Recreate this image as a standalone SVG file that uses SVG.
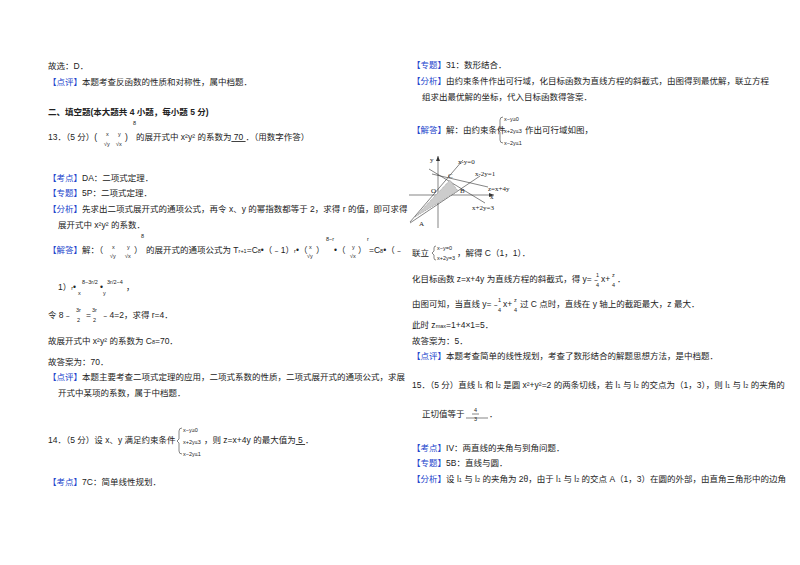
<svg xmlns="http://www.w3.org/2000/svg" width="800" height="565" viewBox="0 0 800 565">
<style>
text{font-family:"Liberation Sans","Noto Sans CJK SC",sans-serif;font-size:8.5px;fill:#222}
.b{fill:#2244cc}
.s{font-size:5.5px}
.bold{font-weight:bold}
.g{font-family:"Liberation Serif","Noto Sans CJK SC",serif;font-size:7px}
line,path,polyline{stroke:#333;stroke-width:0.6;fill:none}
</style>
<rect width="800" height="565" fill="#fff"/>
<g id="left">
<text x="48" y="69">故选：D．</text>
<text x="48" y="85"><tspan class="b">【点评】</tspan>本题考查反函数的性质和对称性，属中档题．</text>
<text x="48" y="115" class="bold">二、填空题(本大题共 4 小题，每小题 5 分)</text>
<text x="48" y="140">13．（5 分）(</text>
<text x="106" y="136" class="s">x</text><text x="104" y="146" class="s">√y</text>
<text x="118" y="136" class="s">y</text><text x="116" y="146" class="s">√x</text>
<text x="125" y="140">)</text><text x="133" y="125" class="s">8</text>
<text x="136" y="140">的展开式中 x²y² 的系数为<tspan text-decoration="underline">  70  </tspan>．（用数字作答）</text>
<text x="48" y="181"><tspan class="b">【考点】</tspan>DA：二项式定理．</text>
<text x="48" y="196"><tspan class="b">【专题】</tspan>5P：二项式定理．</text>
<text x="48" y="212"><tspan class="b">【分析】</tspan>先求出二项式展开式的通项公式，再令 x、y 的幂指数都等于 2，求得 r 的值，即可求得</text>
<text x="58" y="228">展开式中 x²y² 的系数．</text>
<text x="48" y="253"><tspan class="b">【解答】</tspan>解：（</text>
<text x="112" y="249" class="s">x</text><text x="110" y="258" class="s">√y</text>
<text x="127" y="249" class="s">y</text><text x="125" y="258" class="s">√x</text>
<text x="134" y="253">）</text><text x="141" y="238" class="s">8</text>
<text x="146" y="253">的展开式的通项公式为 T<tspan class="s">r+1</tspan>=C<tspan class="s">8</tspan>•（﹣1）<tspan class="s">r</tspan>•（</text>
<text x="309" y="249" class="s">x</text><text x="307" y="258" class="s">√y</text>
<text x="316" y="253">）</text><text x="326" y="241" class="s">8−r</text>
<text x="334" y="253">•（</text>
<text x="352" y="249" class="s">y</text><text x="350" y="258" class="s">√x</text>
<text x="358" y="253">）</text><text x="367" y="241" class="s">r</text>
<text x="369" y="253">=C<tspan class="s">8</tspan>•（﹣</text>
<text x="58" y="290">1）<tspan class="s">r</tspan>•</text>
<text x="78" y="295" class="s">x</text><text x="82" y="284" class="s">8−3r/2</text>
<text x="100" y="290">•</text>
<text x="103" y="295" class="s">y</text><text x="107" y="284" class="s">3r/2−4</text>
<text x="126" y="290">，</text>
<text x="48" y="318">令 8﹣</text><text x="76" y="312" class="s">3r</text><text x="77" y="322" class="s">2</text>
<text x="86" y="318">=</text><text x="92" y="312" class="s">3r</text><text x="93" y="322" class="s">2</text>
<text x="101" y="318">﹣4=2，求得 r=4．</text>
<text x="48" y="344">故展开式中 x²y² 的系数为 C<tspan class="s">8</tspan>=70．</text>
<text x="48" y="365">故答案为：70．</text>
<text x="48" y="380"><tspan class="b">【点评】</tspan>本题主要考查二项式定理的应用，二项式系数的性质，二项式展开式的通项公式，求展</text>
<text x="58" y="396">开式中某项的系数，属于中档题．</text>
<text x="48" y="443">14．（5 分）设 x、y 满足约束条件</text>
<path d="M182,428 q-3,0 -3,3 v8 l-2,2 l2,2 v8 q0,3 3,3"/>
<text x="183" y="432" class="s">x−y≥0</text>
<text x="183" y="444" class="s">x+2y≤3</text>
<text x="183" y="456" class="s">x−2y≤1</text>
<text x="204" y="443">，则 z=x+4y 的最大值为<tspan text-decoration="underline">   5   </tspan>．</text>
<text x="48" y="485"><tspan class="b">【考点】</tspan>7C：简单线性规划．</text>
</g>
<g id="right">
<text x="412" y="68"><tspan class="b">【专题】</tspan>31：数形结合．</text>
<text x="412" y="84"><tspan class="b">【分析】</tspan>由约束条件作出可行域，化目标函数为直线方程的斜截式，由图得到最优解，联立方程</text>
<text x="422" y="100">组求出最优解的坐标，代入目标函数得答案．</text>
<text x="412" y="133"><tspan class="b">【解答】</tspan>解：由约束条件</text>
<path d="M503,117 q-3,0 -3,3 v8 l-2,2 l2,2 v8 q0,3 3,3"/>
<text x="504" y="121" class="s">x−y≥0</text>
<text x="504" y="133" class="s">x+2y≤3</text>
<text x="504" y="145" class="s">x−2y≤1</text>
<text x="525" y="133">作出可行域如图，</text>
<g id="graph">
<line x1="438" y1="156" x2="438" y2="228"/>
<line x1="409" y1="195" x2="494" y2="195"/>
<polygon points="494,195 489,193 489,197" fill="#333"/>
<polygon points="438,156 436,161 440,161" fill="#333"/>
<line x1="410" y1="222" x2="463" y2="160"/>
<line x1="410" y1="223" x2="480" y2="176"/>
<line x1="429" y1="169" x2="485" y2="203"/>
<line x1="432" y1="174" x2="488" y2="187"/>
<polygon points="415,217 450,180 458,191" fill="#ccc" stroke="#555" stroke-width="0.4" stroke-dasharray="1,1"/>
<text x="430" y="162" class="g">y</text>
<text x="458" y="164" class="g">x-y=0</text>
<text x="475" y="176" class="g">x-2y=1</text>
<text x="448" y="178" class="g">C</text>
<text x="488" y="191" class="g">z=x+4y</text>
<text x="460" y="193" class="g">B</text>
<text x="431" y="193" class="g">O</text>
<text x="490" y="199" class="g">x</text>
<text x="472" y="210" class="g">x+2y=3</text>
<text x="419" y="226" class="g">A</text>
</g>
<text x="412" y="256">联立</text>
<path d="M436,246 q-2,0 -2,2 v3 l-2,2 l2,2 v3 q0,2 2,2"/>
<text x="437" y="250" class="s">x−y=0</text>
<text x="437" y="260" class="s">x+2y=3</text>
<text x="457" y="256">，解得 C（1，1）．</text>
<text x="412" y="282">化目标函数 z=x+4y 为直线方程的斜截式，得 y=﹣</text>
<text x="596" y="277" class="s">1</text><text x="596" y="287" class="s">4</text>
<text x="601" y="282">x+</text><text x="612" y="277" class="s">z</text><text x="612" y="287" class="s">4</text>
<text x="617" y="282">．</text>
<text x="412" y="307">由图可知，当直线 y=﹣</text>
<text x="498" y="302" class="s">1</text><text x="498" y="312" class="s">4</text>
<text x="503" y="307">x+</text><text x="514" y="302" class="s">z</text><text x="514" y="312" class="s">4</text>
<text x="520" y="307">过 C 点时，直线在 y 轴上的截距最大，z 最大．</text>
<text x="412" y="328">此时 z<tspan class="s">max</tspan>=1+4×1=5．</text>
<text x="412" y="344">故答案为：5．</text>
<text x="412" y="359"><tspan class="b">【点评】</tspan>本题考查简单的线性规划，考查了数形结合的解题思想方法，是中档题．</text>
<text x="412" y="388">15．（5 分）直线 l<tspan class="s">1</tspan> 和 l<tspan class="s">2</tspan> 是圆 x²+y²=2 的两条切线，若 l<tspan class="s">1</tspan> 与 l<tspan class="s">2</tspan> 的交点为（1，3），则 l<tspan class="s">1</tspan> 与 l<tspan class="s">2</tspan> 的夹角的</text>
<text x="422" y="417">正切值等于</text>
<line x1="466" y1="418" x2="488" y2="418"/>
<text x="474" y="412" class="s">4</text><text x="474" y="421" class="s">3</text>
<line x1="472" y1="414" x2="479" y2="414"/>
<text x="489" y="417">．</text>
<text x="412" y="451"><tspan class="b">【考点】</tspan>IV：两直线的夹角与到角问题．</text>
<text x="412" y="466"><tspan class="b">【专题】</tspan>5B：直线与圆．</text>
<text x="412" y="482"><tspan class="b">【分析】</tspan>设 l<tspan class="s">1</tspan> 与 l<tspan class="s">2</tspan> 的夹角为 2θ，由于 l<tspan class="s">1</tspan> 与 l<tspan class="s">2</tspan> 的交点 A（1，3）在圆的外部，由直角三角形中的边角</text>
</g>
</svg>
